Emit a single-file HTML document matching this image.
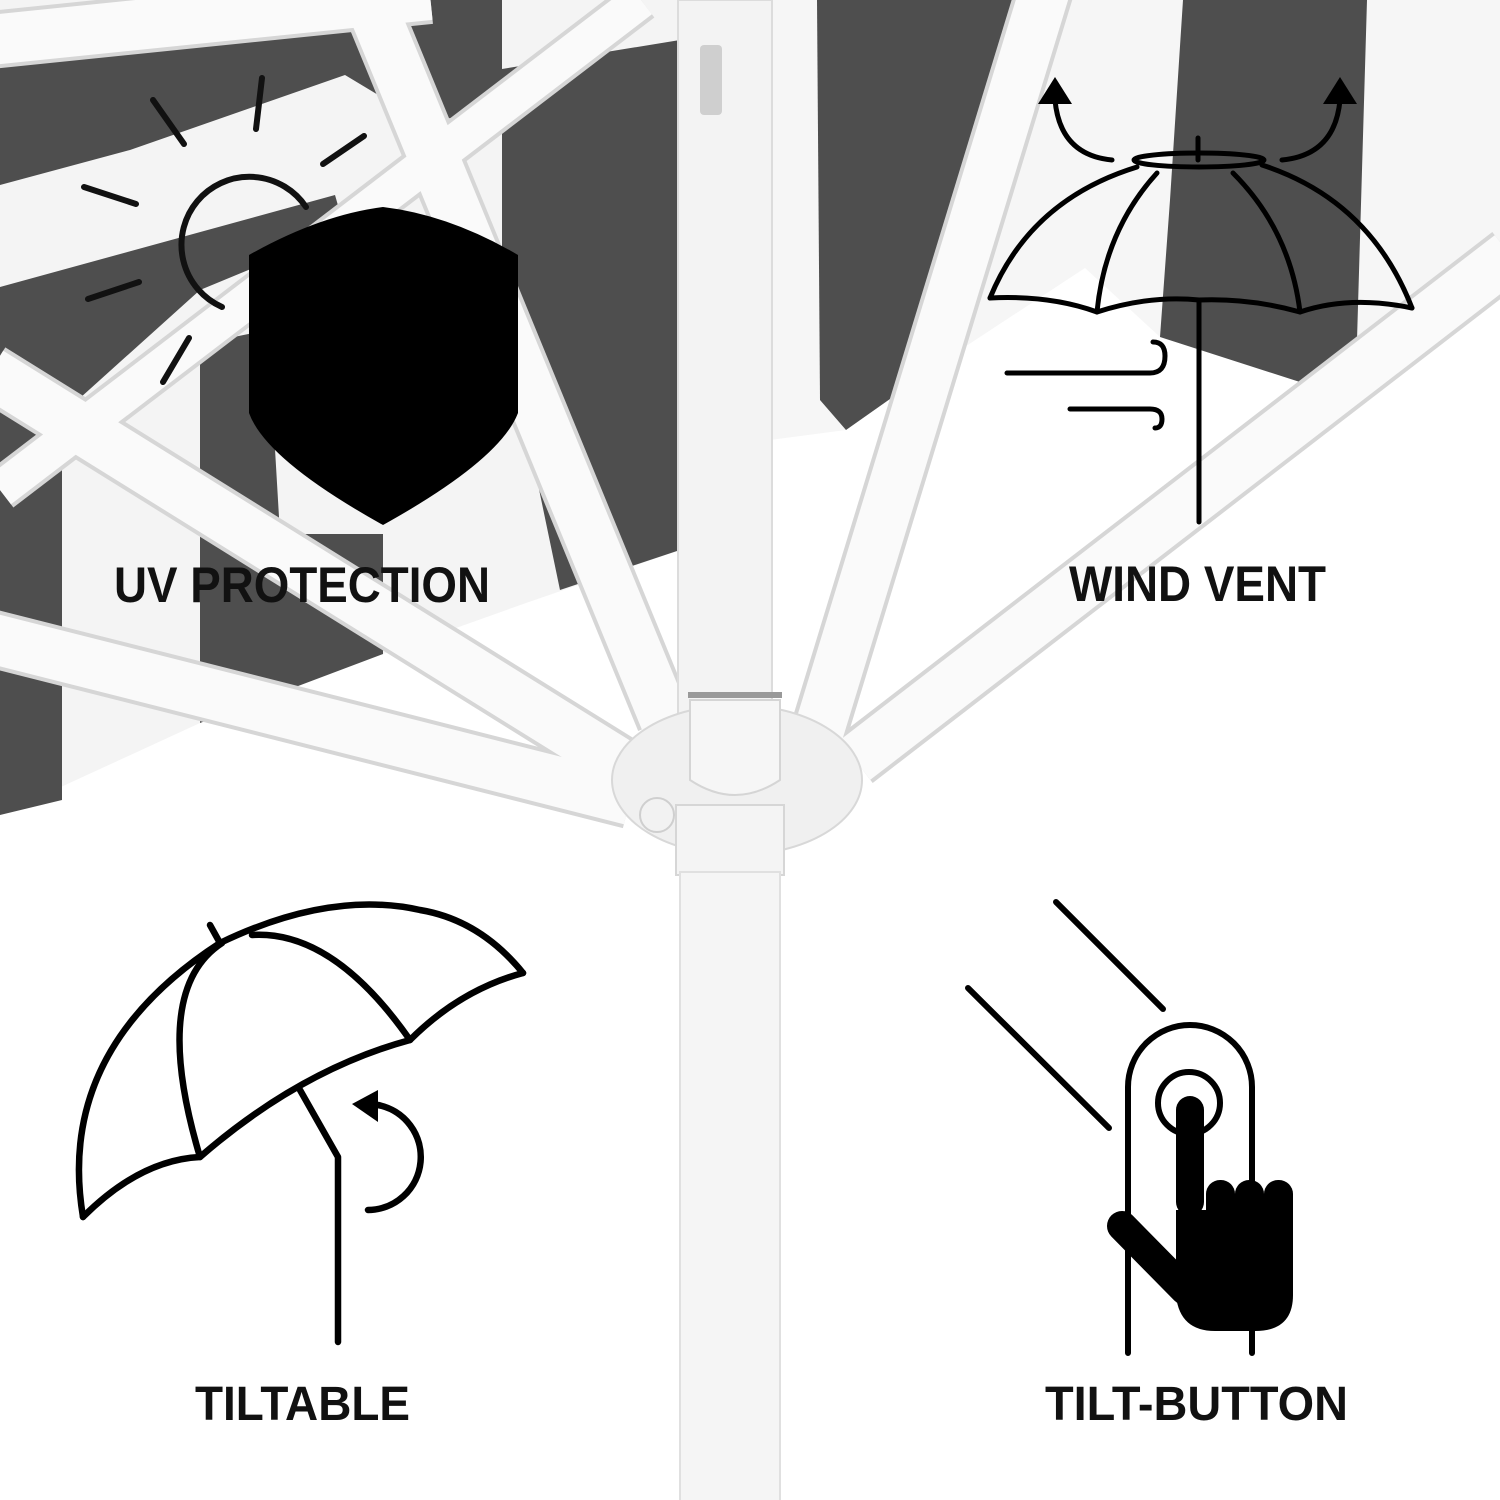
<!DOCTYPE html>
<html><head><meta charset="utf-8"><style>
html,body{margin:0;padding:0;background:#fff}
svg{display:block}
text{font-family:"Liberation Sans",sans-serif;font-weight:bold;fill:#111}
</style></head><body>
<svg width="1500" height="1500" viewBox="0 0 1500 1500" xmlns="http://www.w3.org/2000/svg">
<rect width="1500" height="1500" fill="#fff"/>
<polygon points="0,0 680,0 680,550 526,603 383,654 200,723 0,815" fill="#f4f4f4"/>
<polygon points="770,0 1500,0 1500,287 1303,383 1160,337 1085,268 951,356 846,430 770,440" fill="#f6f6f6"/>
<g fill="#4e4e4e">
<polygon points="0,55 310,0 350,0 345,75 130,150 0,185"/>
<polygon points="0,287 335,195 345,230 200,290 0,470"/>
<polygon points="0,470 62,470 62,800 0,815"/>
<polygon points="200,344 268,330 280,534 383,534 383,654 200,723"/>
<polygon points="270,0 502,0 502,115 420,120 345,75"/>
<polygon points="502,69 680,40 680,550 560,590 535,470 502,250"/>
<polygon points="817,0 1018,0 1000,200 970,320 951,356 846,430 820,400"/>
<polygon points="1183,0 1367,0 1357,340 1303,383 1160,337 1170,200"/>
</g>
<g stroke-linecap="butt">
<g stroke="#d6d6d6">
<line x1="-10" y1="40" x2="430" y2="-5" stroke-width="58"/>
<line x1="0" y1="490" x2="641" y2="0" stroke-width="44"/>
<line x1="365" y1="-10" x2="665" y2="720" stroke-width="58"/>
<line x1="-10" y1="372" x2="630" y2="770" stroke-width="58"/>
<line x1="-10" y1="638" x2="630" y2="800" stroke-width="58"/>
<line x1="1045" y1="-10" x2="810" y2="760" stroke-width="58"/>
<line x1="1510" y1="255" x2="855" y2="760" stroke-width="58"/>
</g>
<g stroke="#fafafa">
<line x1="-10" y1="40" x2="430" y2="-5" stroke-width="50"/>
<line x1="0" y1="490" x2="641" y2="0" stroke-width="36"/>
<line x1="365" y1="-10" x2="665" y2="720" stroke-width="50"/>
<line x1="-10" y1="372" x2="630" y2="770" stroke-width="50"/>
<line x1="-10" y1="638" x2="630" y2="800" stroke-width="50"/>
<line x1="1045" y1="-10" x2="810" y2="760" stroke-width="50"/>
<line x1="1510" y1="255" x2="855" y2="760" stroke-width="50"/>
</g>
</g>
<rect x="678" y="0" width="94" height="720" fill="#f3f3f3" stroke="#dcdcdc" stroke-width="2"/>
<rect x="700" y="45" width="22" height="70" rx="4" fill="#cfcfcf"/>
<ellipse cx="737" cy="780" rx="125" ry="75" fill="#f0f0f0" stroke="#d8d8d8" stroke-width="2"/>
<path d="M690 700 h90 v80 q-45 30 -90 0z" fill="#f6f6f6" stroke="#d5d5d5" stroke-width="2"/>
<rect x="688" y="692" width="94" height="6" fill="#999"/>
<circle cx="657" cy="815" r="17" fill="#f2f2f2" stroke="#cfcfcf" stroke-width="2"/>
<rect x="676" y="805" width="108" height="70" fill="#f4f4f4" stroke="#d6d6d6" stroke-width="2"/>
<rect x="680" y="872" width="100" height="640" fill="#f5f5f5" stroke="#e0e0e0" stroke-width="2"/>
<g stroke="#111" stroke-width="6" stroke-linecap="round" fill="none">
<path d="M306 207 A68 68 0 1 0 222 307"/>
<line x1="153" y1="100" x2="184" y2="144"/>
<line x1="262" y1="78" x2="256" y2="129"/>
<line x1="323" y1="164" x2="364" y2="136"/>
<line x1="84" y1="187" x2="136" y2="204"/>
<line x1="88" y1="299" x2="139" y2="282"/>
<line x1="163" y1="382" x2="189" y2="338"/>
</g>
<path d="M249 255 Q320 215 383 207 Q450 215 518 255 L518 413 Q500 460 383 525 Q266 460 249 413 Z" fill="#000"/>
<text x="114" y="602" font-size="50" textLength="376" lengthAdjust="spacingAndGlyphs">UV PROTECTION</text>
<g stroke="#000" stroke-width="5" fill="none" stroke-linecap="round">
<ellipse cx="1199" cy="160" rx="65" ry="7"/>
<line x1="1198" y1="138" x2="1198" y2="160"/>
<path d="M1137 167 Q1030 200 990 298"/>
<path d="M1262 165 Q1370 200 1412 308"/>
<path d="M990 298 Q1050 295 1097 312 Q1150 295 1199 300 Q1250 298 1300 312 Q1350 295 1412 308"/>
<path d="M1157 173 Q1105 230 1097 312"/>
<path d="M1233 173 Q1290 230 1300 312"/>
<line x1="1199" y1="300" x2="1199" y2="522"/>
<path d="M1112 160 Q1060 155 1055 100"/>
<path d="M1282 160 Q1335 155 1340 100"/>
<path d="M1007 373 H1150 Q1165 373 1165 356 Q1165 342 1153 342"/>
<path d="M1070 409 H1150 Q1162 409 1162 419 Q1162 428 1155 428"/>
</g>
<polygon points="1038,104 1072,104 1055,77" fill="#000"/>
<polygon points="1323,104 1357,104 1340,77" fill="#000"/>
<text x="1069" y="601" font-size="50" textLength="257" lengthAdjust="spacingAndGlyphs">WIND VENT</text>
<g stroke="#000" stroke-width="6.5" fill="none" stroke-linecap="round" stroke-linejoin="round">
<path d="M83 1217 Q55 1050 220 943 Q330 890 420 910 Q480 920 523 973"/>
<path d="M523 973 Q460 990 410 1040 Q300 1070 200 1157 Q140 1160 83 1217"/>
<path d="M222 943 Q150 990 200 1157"/>
<path d="M252 935 Q333 930 410 1040"/>
<line x1="210" y1="925" x2="220" y2="943"/>
<path d="M300 1090 L338 1157 L338 1342"/>
<path d="M368 1210 A53 53 0 0 0 378 1105"/>
</g>
<polygon points="352,1104 378,1090 378,1122" fill="#000"/>
<text x="195" y="1420" font-size="48" textLength="215" lengthAdjust="spacingAndGlyphs">TILTABLE</text>
<g stroke="#000" stroke-width="6" fill="none" stroke-linecap="round">
<line x1="1056" y1="902" x2="1163" y2="1009"/>
<line x1="968" y1="988" x2="1109" y2="1128"/>
<path d="M1128 1353 V1087 A62 62 0 0 1 1252 1087 V1353"/>
<circle cx="1189" cy="1103" r="31"/>
</g>
<g fill="#000">
<rect x="1176" y="1096" width="28" height="120" rx="14"/>
<path d="M1176 1210 L1293 1210 L1293 1295 Q1293 1331 1255 1331 L1215 1331 Q1180 1331 1176 1296 Z"/>
<rect x="1206" y="1180" width="29" height="60" rx="14"/>
<rect x="1235" y="1180" width="29" height="60" rx="14"/>
<rect x="1264" y="1180" width="29" height="60" rx="14"/>
</g>
<line x1="1122" y1="1226" x2="1185" y2="1290" stroke="#000" stroke-width="30" stroke-linecap="round"/>
<text x="1045" y="1420" font-size="48" textLength="303" lengthAdjust="spacingAndGlyphs">TILT-BUTTON</text>
</svg>
</body></html>
